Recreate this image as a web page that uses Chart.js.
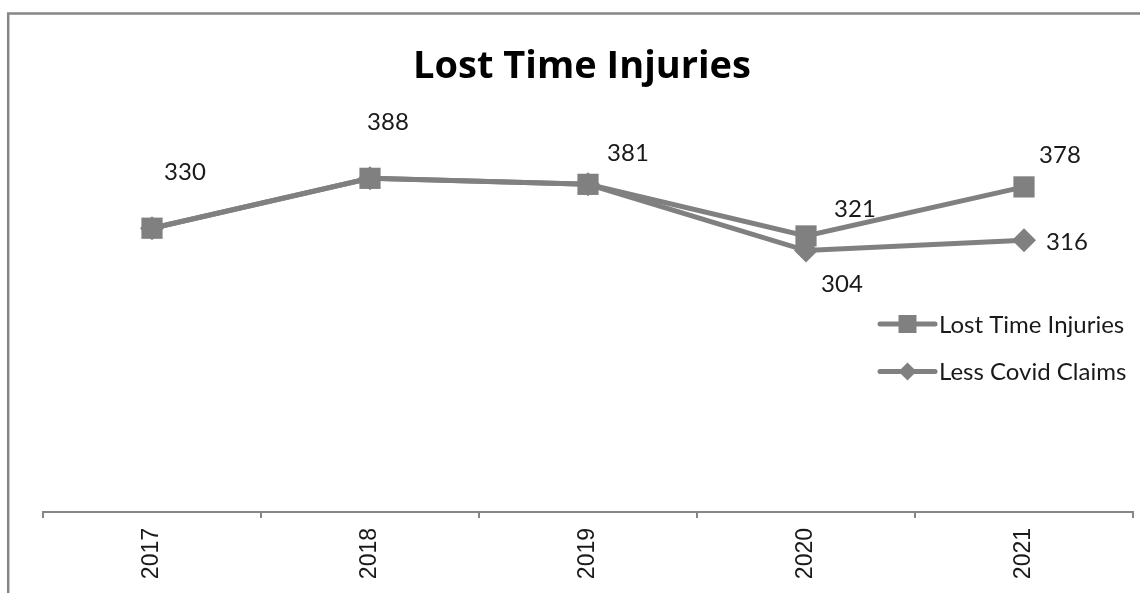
<!DOCTYPE html>
<html>
<head>
<meta charset="utf-8">
<script src="https://cdn.jsdelivr.net/npm/chart.js@4/dist/chart.umd.min.js"></script>
<style>
  html, body { margin: 0; padding: 0; background: #ffffff; overflow: hidden; }
  #wrap { position: relative; width: 1140px; height: 593px; }
  canvas { display: block; }
</style>
</head>
<body>
<div id="wrap"><canvas id="c" width="1140" height="593"></canvas></div>
<script>
const categories = ['2017', '2018', '2019', '2020', '2021'];
const lostTimeInjuries = [330, 388, 381, 321, 378];
const lessCovidClaims = [330, 388, 381, 304, 316];
const seriesNames = ['Lost Time Injuries', 'Less Covid Claims'];
const chartTitle = 'Lost Time Injuries';

const GRAY = '#808080';
const TEXT = '#1a1a1a';

// label placement (pixel offsets from each point), null = no label
const labelOffsets = [
  [[33, -56], [18, -56], [40, -31], [49, -27], [36, -32]],
  [null, null, null, [36, 34], [43, 2]]
];

const framePlugin = {
  id: 'frame',
  beforeDraw(chart) {
    const ctx = chart.ctx;
    ctx.save();
    ctx.fillStyle = '#ffffff';
    ctx.fillRect(0, 0, chart.width, chart.height);
    ctx.strokeStyle = '#868686';
    ctx.lineWidth = 2.5;
    ctx.beginPath();
    ctx.moveTo(8.2, chart.height);
    ctx.lineTo(8.2, 13.5);
    ctx.lineTo(chart.width, 13.5);
    ctx.stroke();
    ctx.restore();
  }
};

const labelsPlugin = {
  id: 'valueLabels',
  afterDatasetsDraw(chart) {
    const ctx = chart.ctx;
    ctx.save();
    ctx.font = '24px Lato';
    ctx.fillStyle = TEXT;
    ctx.textAlign = 'center';
    ctx.textBaseline = 'middle';
    chart.data.datasets.forEach((ds, di) => {
      const meta = chart.getDatasetMeta(di);
      meta.data.forEach((pt, i) => {
        const off = labelOffsets[di][i];
        if (!off) return;
        ctx.fillText(String(ds.data[i]), pt.x + off[0], pt.y + off[1]);
      });
    });
    ctx.restore();
  }
};

const legendPlugin = {
  id: 'sideLegend',
  afterDraw(chart) {
    const ctx = chart.ctx;
    const x0 = 880, x1 = 935, mx = 907.5, tx = 939;
    const ys = [324, 371.5];
    ctx.save();
    chart.data.datasets.forEach((ds, di) => {
      const y = ys[di];
      ctx.strokeStyle = GRAY;
      ctx.lineWidth = 5;
      ctx.lineCap = 'round';
      ctx.beginPath();
      ctx.moveTo(x0, y);
      ctx.lineTo(x1, y);
      ctx.stroke();
      ctx.fillStyle = GRAY;
      ctx.beginPath();
      if (ds.pointStyle === 'rect') {
        ctx.rect(mx - 9, y - 9, 18, 18);
      } else {
        ctx.moveTo(mx, y - 9);
        ctx.lineTo(mx + 9, y);
        ctx.lineTo(mx, y + 9);
        ctx.lineTo(mx - 9, y);
        ctx.closePath();
      }
      ctx.fill();
      ctx.fillStyle = TEXT;
      ctx.font = '24px Lato';
      ctx.textAlign = 'left';
      ctx.textBaseline = 'middle';
      ctx.fillText(ds.label, tx, y + 1);
    });
    ctx.restore();
  }
};

new Chart(document.getElementById('c'), {
  type: 'line',
  data: {
    labels: categories,
    datasets: [
      {
        label: seriesNames[0],
        data: lostTimeInjuries,
        borderColor: GRAY,
        backgroundColor: GRAY,
        borderWidth: 5,
        pointStyle: 'rect',
        pointRadius: 15,
        pointBorderWidth: 0,
        pointBackgroundColor: GRAY,
        tension: 0,
        clip: false
      },
      {
        label: seriesNames[1],
        data: lessCovidClaims,
        borderColor: GRAY,
        backgroundColor: GRAY,
        borderWidth: 5,
        pointStyle: 'rectRot',
        pointRadius: 12,
        pointBorderWidth: 0,
        pointBackgroundColor: GRAY,
        tension: 0,
        clip: false
      }
    ]
  },
  options: {
    responsive: false,
    animation: false,
    devicePixelRatio: 1,
    layout: { autoPadding: false, padding: { left: 31, right: 7, top: 0, bottom: 0 } },
    plugins: {
      legend: { display: false },
      tooltip: { enabled: false },
      title: {
        display: true,
        text: chartTitle,
        color: '#000000',
        font: { family: 'Open Sans', size: 38, weight: 'bold', lineHeight: 1.2 },
        padding: { top: 44.4, bottom: 35 }
      }
    },
    scales: {
      x: {
        type: 'category',
        offset: true,
        grid: {
          display: true,
          offset: true,
          drawOnChartArea: false,
          drawTicks: true,
          tickLength: 6,
          color: '#868686',
          lineWidth: 2
        },
        border: { display: true, color: '#868686', width: 2 },
        ticks: {
          autoSkip: false,
          minRotation: 90,
          maxRotation: 90,
          padding: 10,
          color: TEXT,
          font: { family: 'Liberation Sans', size: 23 }
        },
        afterFit(scale) {
          scale.height = 81;
          scale.paddingLeft = 0;
          scale.paddingRight = 0;
        }
      },
      y: {
        min: 0,
        max: 450,
        display: true,
        grid: { display: false },
        border: { display: false },
        ticks: { display: false },
        afterFit(scale) {
          scale.width = 12;
          scale.paddingTop = 0;
          scale.paddingBottom = 0;
        }
      }
    }
  },
  plugins: [framePlugin, labelsPlugin, legendPlugin]
});
</script>
</body>
</html>
